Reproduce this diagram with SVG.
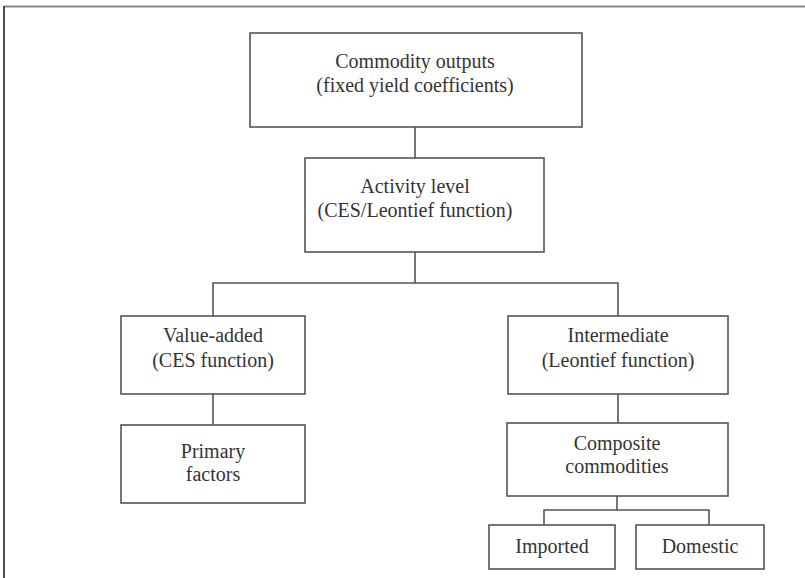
<svg xmlns="http://www.w3.org/2000/svg" width="805" height="578" viewBox="0 0 805 578">
<style>
.box{fill:#fff;stroke:#555;stroke-width:1.6}
.t{font-family:"Liberation Serif","Times New Roman",serif;font-size:20px;fill:#333;text-anchor:middle}
.c{fill:none;stroke:#555;stroke-width:1.6}
</style>
<rect width="805" height="578" fill="#fff"/>
<g id="frame">
<line x1="4" y1="6.5" x2="805" y2="6.5" stroke="#888" stroke-width="2"/>
<line x1="4" y1="6" x2="4" y2="578" stroke="#222" stroke-width="1.6"/>
</g>
<g id="connectors">
<line class="c" x1="415" y1="127" x2="415" y2="158"/>
<line class="c" x1="415" y1="252" x2="415" y2="283"/>
<polyline class="c" points="213,316 213,283 618,283 618,316"/>
<line class="c" x1="213" y1="394" x2="213" y2="425"/>
<line class="c" x1="618" y1="394" x2="618" y2="423"/>
<line class="c" x1="617" y1="496" x2="617" y2="510"/>
<polyline class="c" points="544,525 544,510 709,510 709,525"/>
</g>
<g id="commodity-outputs">
<rect class="box" x="250" y="33" width="332" height="94"/>
<text class="t" x="415" y="68">Commodity outputs</text>
<text class="t" x="415" y="92">(fixed yield coefficients)</text>
</g>
<g id="activity-level">
<rect class="box" x="305" y="158" width="239" height="94"/>
<text class="t" x="415" y="193">Activity level</text>
<text class="t" x="415" y="217">(CES/Leontief function)</text>
</g>
<g id="value-added">
<rect class="box" x="121" y="316" width="184" height="78"/>
<text class="t" x="213" y="342">Value-added</text>
<text class="t" x="213" y="367">(CES function)</text>
</g>
<g id="intermediate">
<rect class="box" x="508" y="316" width="220" height="78"/>
<text class="t" x="618" y="342">Intermediate</text>
<text class="t" x="618" y="367">(Leontief function)</text>
</g>
<g id="primary-factors">
<rect class="box" x="121" y="425" width="184" height="78"/>
<text class="t" x="213" y="458">Primary</text>
<text class="t" x="213" y="481">factors</text>
</g>
<g id="composite-commodities">
<rect class="box" x="507" y="423" width="221" height="73"/>
<text class="t" x="617" y="450">Composite</text>
<text class="t" x="617" y="473">commodities</text>
</g>
<g id="imported">
<rect class="box" x="489" y="525" width="126" height="44"/>
<text class="t" x="552" y="553">Imported</text>
</g>
<g id="domestic">
<rect class="box" x="636" y="525" width="128" height="44"/>
<text class="t" x="700" y="553">Domestic</text>
</g>
</svg>
